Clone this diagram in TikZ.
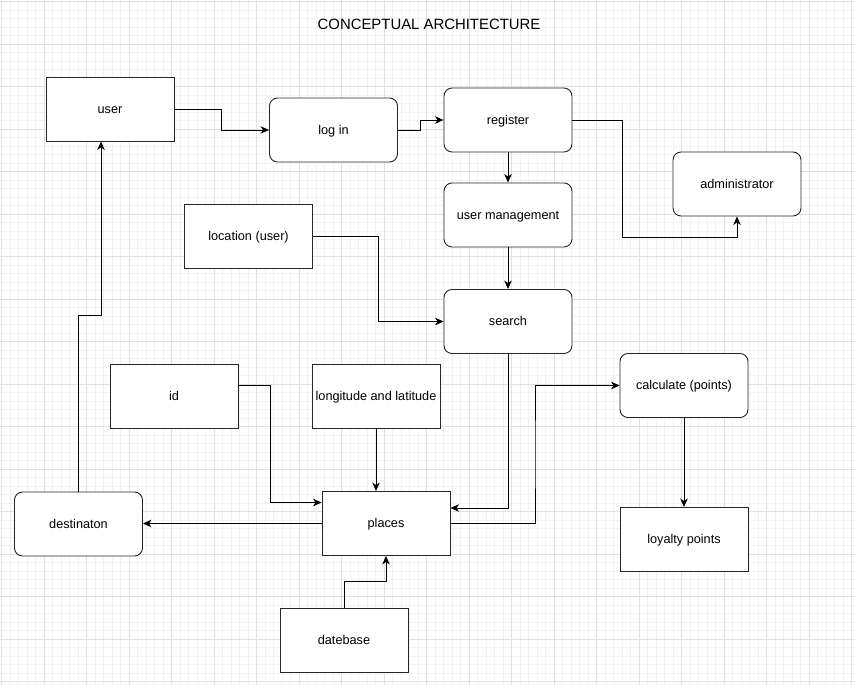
\documentclass[tikz,border=0pt]{standalone}
\usepackage{fontspec}
\setmainfont{Liberation Sans}
\usetikzlibrary{arrows.meta,calc}
\definecolor{majorgrid}{HTML}{E0E0E0}
\definecolor{minorgrid}{HTML}{F3F3F3}
\tikzset{
  boxbase/.style={draw=black!85, line width=0.9pt, fill=white, minimum width=128pt, minimum height=64pt, inner sep=0pt, font=\fontsize{12.7}{14}\selectfont, text=black, text height=11.5pt, text depth=2.9pt},
  sqbox/.style={boxbase},
  rdbox/.style={boxbase, rounded corners=8pt},
  arr/.style={draw=black, line width=0.9pt, -{Stealth[length=8.5pt,width=7.5pt,inset=2.5pt]}},
  mingrid/.style={draw=minorgrid, line width=0.8pt},
  majgrid/.style={draw=majorgrid, line width=0.9pt},
}
\begin{document}
\begin{tikzpicture}[x=1pt,y=-1pt]
\useasboundingbox (0,0) rectangle (855,685);
\fill[white] (0,0) rectangle (855,685);
% grid
\foreach \i in {0,...,100} {\draw[mingrid] ({1.7+8.5*\i},0) -- ({1.7+8.5*\i},685);}
\foreach \i in {0,...,80} {\draw[mingrid] (0,{1.5+8.5*\i}) -- (855,{1.5+8.5*\i});}
\foreach \i in {0,...,20} {\draw[majgrid] ({1.7+42.5*\i},0) -- ({1.7+42.5*\i},685);}
\foreach \i in {0,...,16} {\draw[majgrid] (0,{1.5+42.5*\i}) -- (855,{1.5+42.5*\i});}

\node[font=\fontsize{14.9}{17}\selectfont, text=black, text height=13pt, text depth=3pt] (title) at (429,25) {CONCEPTUAL ARCHITECTURE};

\node[sqbox] (user) at (110,109) {user};
\node[rdbox] (login) at (333.5,130) {log in};
\node[rdbox] (register) at (508,120) {register};
\node[rdbox] (usermgmt) at (508,215) {user management};
\node[rdbox] (admin) at (737,184) {administrator};
\node[sqbox] (location) at (248.5,236.5) {location (user)};
\node[rdbox] (search) at (508,321.5) {search};
\node[sqbox] (id) at (174,396) {id};
\node[sqbox] (longlat) at (376,396) {longitude and latitude};
\node[sqbox] (places) at (386,523.5) {places};
\node[rdbox] (destin) at (78.5,524) {destinaton};
\node[sqbox] (datebase) at (344,640) {datebase};
\node[rdbox] (calc) at (684,385.5) {calculate (points)};
\node[sqbox] (loyalty) at (684,539.5) {loyalty points};

% connectors
\draw[arr] (user.east) -| ($(user.east)!.5!(login.west)$) |- (login.west);
\draw[arr] (login.east) -| ($(login.east)!.5!(register.west)$) |- (register.west);
\draw[arr] (register.south) -- (usermgmt.north);
\draw[arr] (register.east) -- ++(50,0) |- ([yshift=-21pt]admin.south) -- (admin.south);
\draw[arr] (usermgmt.south) -- (search.north);
\draw[arr] (location.east) -| ($(location.east)!.5!(search.west)$) |- (search.west);
\draw[arr] (search.south) |- ([yshift=15.5pt]places.east);
\draw[arr] (places.east) -| ($(places.east)!.5!(calc.west)$) |- (calc.west);
\draw[arr] (calc.south) -- (loyalty.north);
\draw[arr] ([yshift=10.5pt]id.east) -- ++(32,0) |- ([yshift=21pt]places.west);
\draw[arr] (longlat.south) -- (longlat.south |- places.north);
\draw[arr] (places.west) -- (places.west -| destin.east);
\draw[arr] (destin.north) -- ++(0,-176) -| ([xshift=-9pt]user.south);
\draw[arr] (datebase.north) -- ++(0,-26) -| (places.south);
\end{tikzpicture}
\end{document}
